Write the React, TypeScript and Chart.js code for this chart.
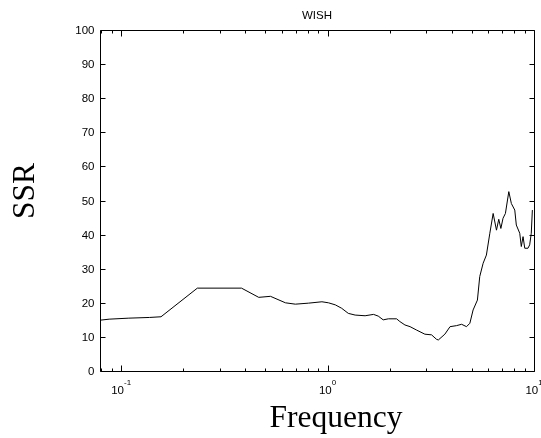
import React, { useEffect, useRef } from "react";
import { Chart, registerables } from "chart.js";

Chart.register(...registerables);

const frequency: number[] = [
  0.079, 0.0875, 0.109, 0.137, 0.156, 0.234, 0.383, 0.464, 0.529, 0.625, 0.698, 0.809, 0.939,
  1.01, 1.09, 1.17, 1.26, 1.36, 1.52, 1.67, 1.76, 1.86, 1.97, 2.16, 2.24, 2.37, 2.51, 2.7,
  2.96, 3.19, 3.37, 3.44, 3.7, 3.92, 4.21, 4.46, 4.71, 4.89, 5.07, 5.32, 5.46, 5.67, 5.88,
  6.11, 6.34, 6.58, 6.75, 6.91, 7.08, 7.27, 7.55, 7.77, 8.07, 8.21, 8.53, 8.68, 8.85, 9.02,
  9.35, 9.53, 9.7, 9.82,
];
const ssr: number[] = [
  14.9, 15.2, 15.5, 15.7, 15.9, 24.3, 24.3, 21.6, 21.9, 20.0, 19.6, 19.9, 20.3,
  20.0, 19.4, 18.4, 16.9, 16.4, 16.2, 16.6, 16.1, 15.0, 15.3, 15.3, 14.5, 13.5, 13.0, 12.0,
  10.8, 10.6, 9.3, 9.1, 10.8, 13.0, 13.3, 13.7, 13.0, 14.0, 17.9, 20.8, 27.7, 31.6, 34.0,
  40.4, 46.2, 41.3, 44.5, 41.8, 44.8, 46.2, 52.6, 49.1, 47.2, 42.8, 40.4, 36.5, 39.4, 36.0,
  36.0, 37.0, 40.4, 47.2,
];
const yTicks: number[] = [0, 10, 20, 30, 40, 50, 60, 70, 80, 90, 100];
const xMajorTicks: number[] = [0.1, 1, 10];
const xMajorExponents: string[] = ["-1", "0", "1"];
const xMinorTicks: number[] = [
  0.08, 0.09, 0.2, 0.3, 0.4, 0.5, 0.6, 0.7, 0.8, 0.9, 2, 3, 4, 5, 6, 7, 8, 9,
];
const titleText = "WISH";
const xTitle = "Frequency";
const yTitle = "SSR";

const SANS = "'Liberation Sans', Arial, sans-serif";
const SERIF = "'Liberation Serif', 'Times New Roman', serif";

const matlabAxes = {
  id: "matlabAxes",
  afterDraw(chart: any) {
    const { ctx, chartArea } = chart;
    const xs = chart.scales.x;
    const ys = chart.scales.y;
    const L = Math.round(chartArea.left) + 0.5;
    const R = Math.round(chartArea.right) + 0.5;
    const T = Math.round(chartArea.top) + 0.5;
    const B = Math.round(chartArea.bottom) + 0.5;
    ctx.save();
    ctx.strokeStyle = "#000";
    ctx.lineWidth = 1;
    ctx.beginPath();
    ctx.rect(L, T, R - L, B - T);
    ctx.stroke();

    // y ticks
    ctx.beginPath();
    ctx.fillStyle = "#000";
    ctx.font = `11.5px ${SANS}`;
    ctx.textAlign = "right";
    ctx.textBaseline = "middle";
    yTicks.forEach((v) => {
      const y = Math.round(ys.getPixelForValue(v)) + 0.5;
      ctx.moveTo(L, y);
      ctx.lineTo(L + 5, y);
      ctx.moveTo(R, y);
      ctx.lineTo(R - 5, y);
      ctx.fillText(String(v), L - 6, y + 0.5);
    });
    ctx.stroke();

    // x ticks
    ctx.beginPath();
    xMinorTicks.forEach((f) => {
      const x = Math.round(xs.getPixelForValue(f)) + 0.5;
      ctx.moveTo(x, B);
      ctx.lineTo(x, B - 3);
      ctx.moveTo(x, T);
      ctx.lineTo(x, T + 3);
    });
    xMajorTicks.forEach((f) => {
      const x = Math.round(xs.getPixelForValue(f)) + 0.5;
      ctx.moveTo(x, B);
      ctx.lineTo(x, B - 6);
      ctx.moveTo(x, T);
      ctx.lineTo(x, T + 6);
    });
    ctx.stroke();

    // x tick labels with superscript exponents
    xMajorTicks.forEach((f, i) => {
      const x = xs.getPixelForValue(f);
      ctx.font = `11.5px ${SANS}`;
      const baseW = ctx.measureText("10").width;
      ctx.font = `8px ${SANS}`;
      const expW = ctx.measureText(xMajorExponents[i]).width;
      const start = x - (baseW + expW) / 2;
      ctx.textAlign = "left";
      ctx.textBaseline = "alphabetic";
      ctx.font = `11.5px ${SANS}`;
      ctx.fillText("10", start, B + 22);
      ctx.font = `8px ${SANS}`;
      ctx.fillText(xMajorExponents[i], start + baseW, B + 13);
    });

    // title
    ctx.font = `11.5px ${SANS}`;
    ctx.textAlign = "center";
    ctx.textBaseline = "middle";
    ctx.fillText(titleText, (chartArea.left + chartArea.right) / 2, 16);

    // axis titles
    ctx.font = `31.5px ${SERIF}`;
    ctx.textAlign = "center";
    ctx.textBaseline = "alphabetic";
    ctx.fillText(xTitle, 336, 427);

    ctx.save();
    ctx.translate(26, 191);
    ctx.rotate(-Math.PI / 2);
    ctx.textBaseline = "middle";
    ctx.fillText(yTitle, 0, 0);
    ctx.restore();

    ctx.restore();
  },
};

export default function App() {
  const canvasRef = useRef<HTMLCanvasElement | null>(null);

  useEffect(() => {
    const canvas = canvasRef.current;
    if (!canvas) return;
    const points = frequency.map((f, i) => ({ x: f, y: ssr[i] }));
    const chart = new Chart(canvas, {
      type: "line",
      data: {
        datasets: [
          {
            data: points,
            borderColor: "#000",
            borderWidth: 1,
            pointRadius: 0,
            tension: 0,
            fill: false,
          },
        ],
      },
      options: {
        animation: false,
        responsive: false,
        devicePixelRatio: 1,
        layout: { padding: { left: 100, right: 7, top: 30, bottom: 67 } },
        plugins: {
          legend: { display: false },
          tooltip: { enabled: false },
          title: { display: false },
        },
        scales: {
          x: { type: "logarithmic", min: 0.079, max: 10, display: false },
          y: { type: "linear", min: 0, max: 100, display: false },
        },
      },
      plugins: [matlabAxes],
    });
    return () => chart.destroy();
  }, []);

  return (
    <div style={{ position: "absolute", left: 0, top: 0, width: 541, height: 438, background: "#fff" }}>
      <canvas ref={canvasRef} width={541} height={438} style={{ display: "block" }} />
    </div>
  );
}
